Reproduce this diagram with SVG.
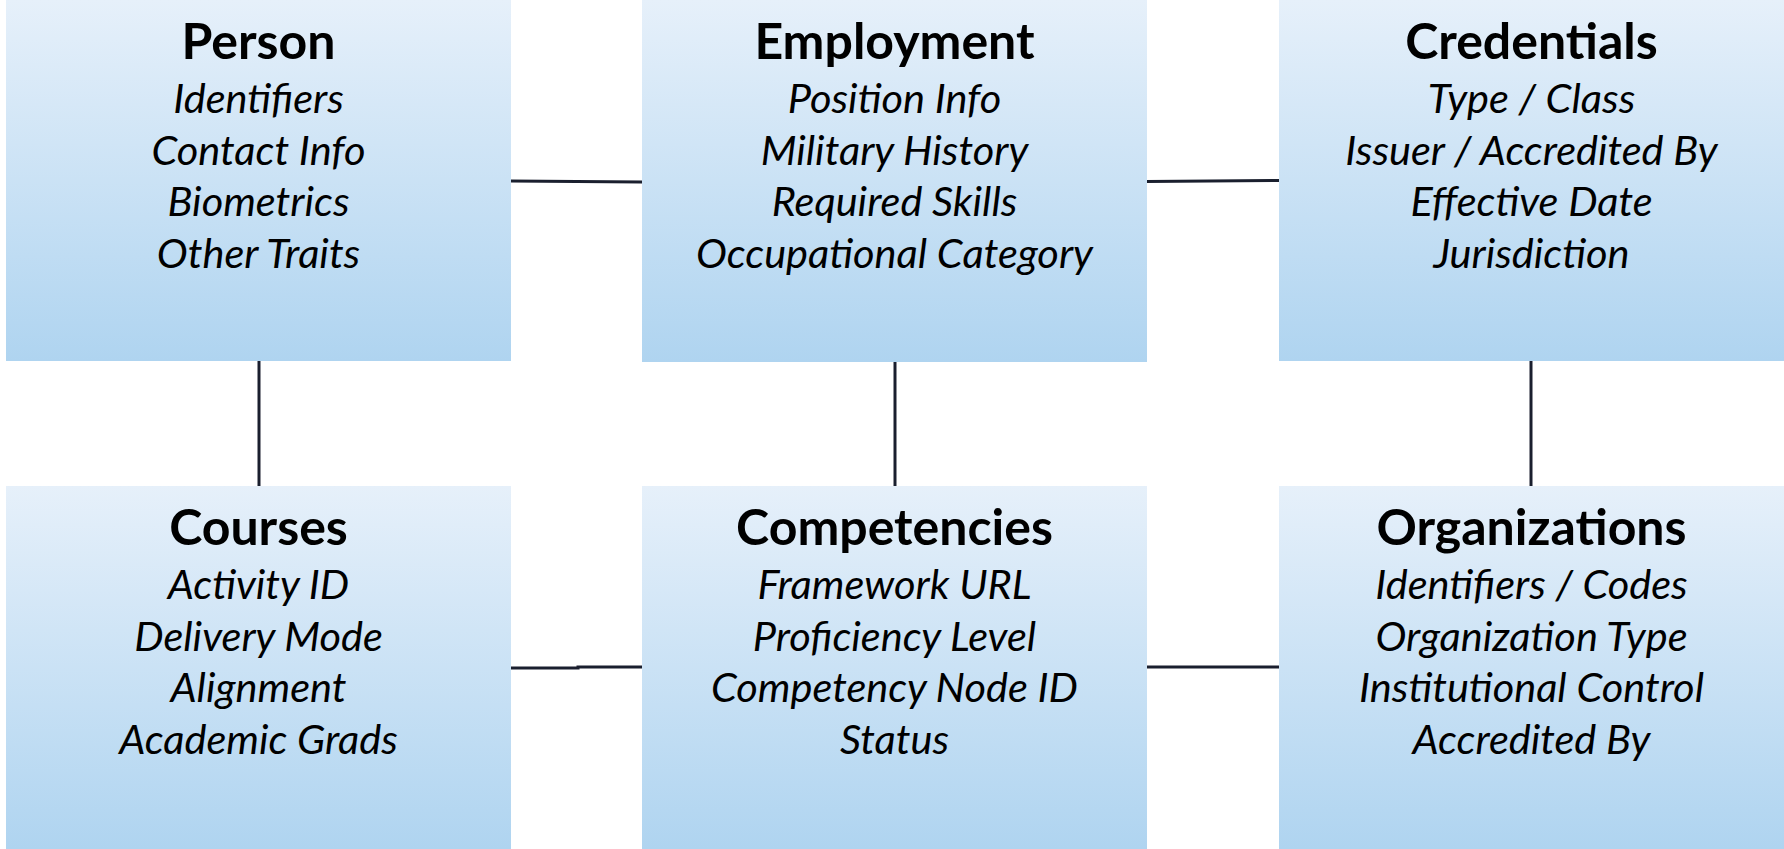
<svg xmlns="http://www.w3.org/2000/svg" width="1784" height="849" viewBox="0 0 1784 849">
<defs>
<linearGradient id="g" x1="0" y1="0" x2="0" y2="1">
<stop offset="0" stop-color="#e6f0fa"/>
<stop offset="1" stop-color="#afd4f0"/>
</linearGradient>
<style>
.box{fill:url(#g);}
.t{font-family:Lato,"Open Sans",sans-serif;font-weight:bold;font-size:50px;fill:#000;text-anchor:middle;}
.i{font-family:Lato,"Open Sans",sans-serif;font-style:italic;font-size:41.5px;fill:#000;text-anchor:middle;}
.c{stroke:#1a1f2e;stroke-width:3;fill:none;}
</style>
</defs>
<rect width="1784" height="849" fill="#ffffff"/>
<g id="connectors">
<line class="c" x1="511" y1="181" x2="642" y2="182"/>
<line class="c" x1="1147" y1="181.5" x2="1279" y2="180.5"/>
<line class="c" x1="259" y1="361" x2="259" y2="486"/>
<line class="c" x1="895" y1="362" x2="895" y2="486"/>
<line class="c" x1="1531" y1="361" x2="1531" y2="486"/>
<polyline class="c" points="511,668 578,668 578,667 642,667"/>
<line class="c" x1="1147" y1="667" x2="1279" y2="667"/>
</g>
<g id="person">
<rect class="box" x="6" y="0" width="505" height="361"/>
<text class="t" x="258.5" y="59">Person</text>
<text class="i" x="258.5" y="113">Identifiers</text>
<text class="i" x="258.5" y="164.5">Contact Info</text>
<text class="i" x="258.5" y="216">Biometrics</text>
<text class="i" x="258.5" y="267.5">Other Traits</text>
</g>
<g id="employment">
<rect class="box" x="642" y="0" width="505" height="362"/>
<text class="t" x="894.5" y="59">Employment</text>
<text class="i" x="894.5" y="113">Position Info</text>
<text class="i" x="894.5" y="164.5">Military History</text>
<text class="i" x="894.5" y="216">Required Skills</text>
<text class="i" x="894.5" y="267.5">Occupational Category</text>
</g>
<g id="credentials">
<rect class="box" x="1279" y="0" width="505" height="361"/>
<text class="t" x="1531.5" y="59">Credentials</text>
<text class="i" x="1531.5" y="113">Type / Class</text>
<text class="i" x="1531.5" y="164.5">Issuer / Accredited By</text>
<text class="i" x="1531.5" y="216">Effective Date</text>
<text class="i" x="1531.5" y="267.5">Jurisdiction</text>
</g>
<g id="courses">
<rect class="box" x="6" y="486" width="505" height="363"/>
<text class="t" x="258.5" y="545">Courses</text>
<text class="i" x="258.5" y="599">Activity ID</text>
<text class="i" x="258.5" y="650.5">Delivery Mode</text>
<text class="i" x="258.5" y="702">Alignment</text>
<text class="i" x="258.5" y="753.5">Academic Grads</text>
</g>
<g id="competencies">
<rect class="box" x="642" y="486" width="505" height="363"/>
<text class="t" x="894.5" y="545">Competencies</text>
<text class="i" x="894.5" y="599">Framework URL</text>
<text class="i" x="894.5" y="650.5">Proficiency Level</text>
<text class="i" x="894.5" y="702">Competency Node ID</text>
<text class="i" x="894.5" y="753.5">Status</text>
</g>
<g id="organizations">
<rect class="box" x="1279" y="486" width="505" height="363"/>
<text class="t" x="1531.5" y="545">Organizations</text>
<text class="i" x="1531.5" y="599">Identifiers / Codes</text>
<text class="i" x="1531.5" y="650.5">Organization Type</text>
<text class="i" x="1531.5" y="702">Institutional Control</text>
<text class="i" x="1531.5" y="753.5">Accredited By</text>
</g>
</svg>
